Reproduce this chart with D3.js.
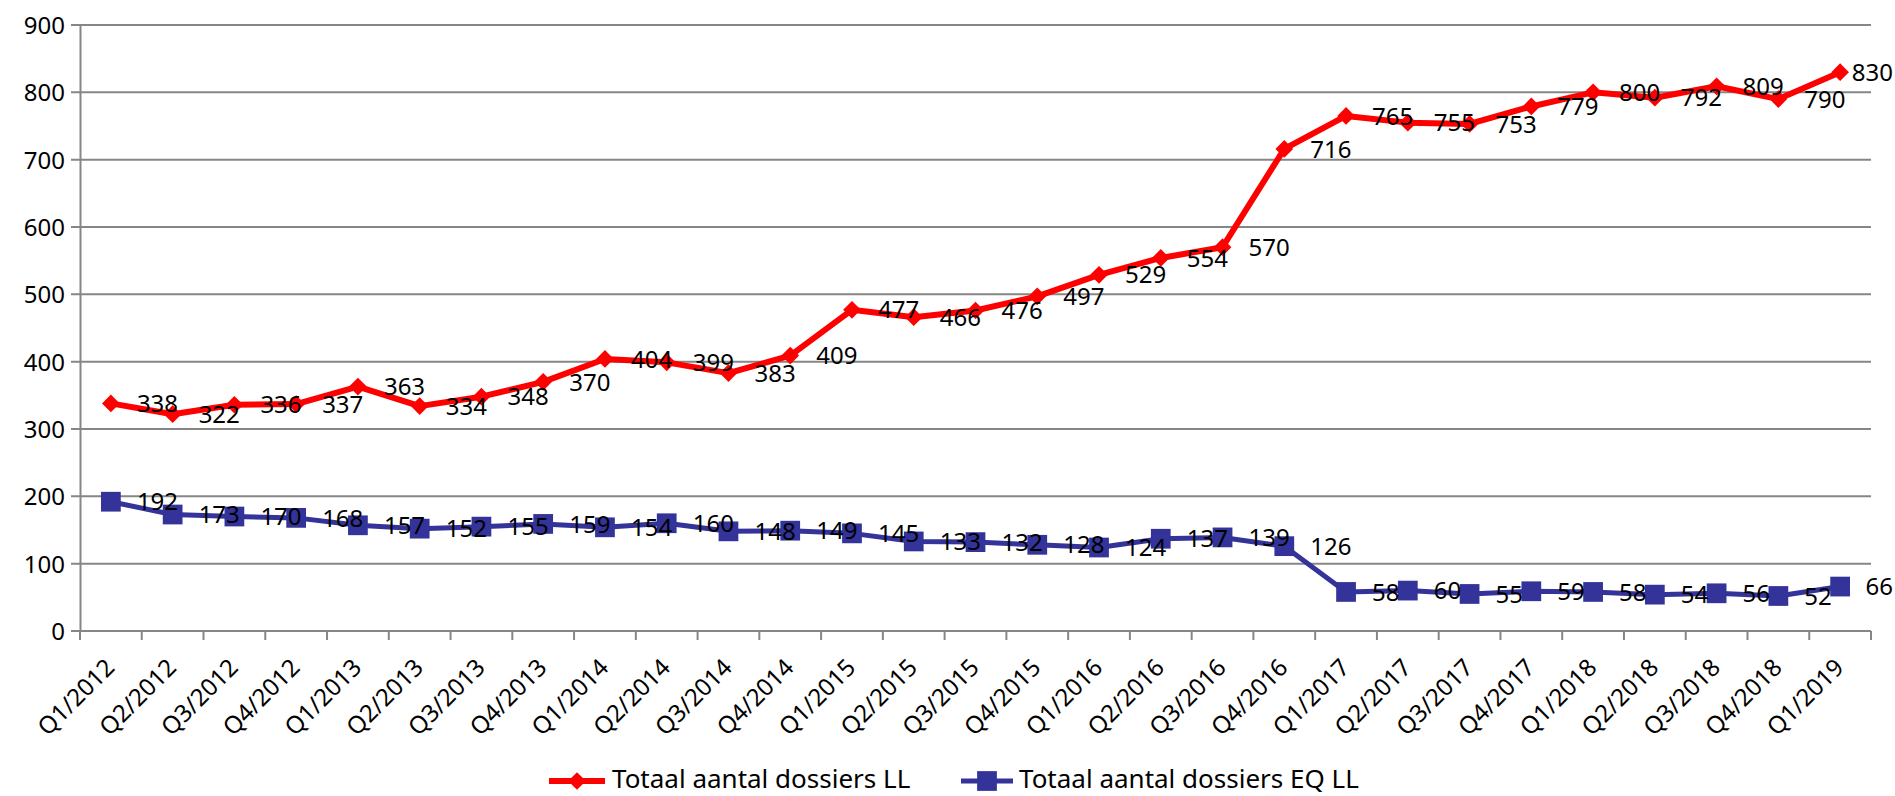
<!DOCTYPE html>
<html>
<head>
<meta charset="utf-8">
<script src="https://cdn.jsdelivr.net/npm/d3@7"></script>
<style>
  html, body { margin: 0; padding: 0; background: #fff; }
  svg { display: block; }
  text { font-family: "Noto Sans", "DejaVu Sans", sans-serif; fill: #000; }
</style>
</head>
<body>
<svg id="chart" width="1895" height="796"></svg>
<script>
const categories = ["Q1/2012","Q2/2012","Q3/2012","Q4/2012","Q1/2013","Q2/2013","Q3/2013","Q4/2013",
  "Q1/2014","Q2/2014","Q3/2014","Q4/2014","Q1/2015","Q2/2015","Q3/2015","Q4/2015",
  "Q1/2016","Q2/2016","Q3/2016","Q4/2016","Q1/2017","Q2/2017","Q3/2017","Q4/2017",
  "Q1/2018","Q2/2018","Q3/2018","Q4/2018","Q1/2019"];
const seriesLL = [338,322,336,337,363,334,348,370,404,399,383,409,477,466,476,497,529,554,570,716,765,755,753,779,800,792,809,790,830];
const seriesEQ = [192,173,170,168,157,152,155,159,154,160,148,149,145,133,132,128,124,137,139,126,58,60,55,59,58,54,56,52,66];
const yTicks = [0,100,200,300,400,500,600,700,800,900];
const seriesNames = ["Totaal aantal dossiers LL", "Totaal aantal dossiers EQ LL"];
const seriesColors = ["#FF0000", "#333399"];

(function () {
const svg = d3.select("#chart");
const pLeft = 80, pRight = 1871, pTop = 25, pBottom = 631;
const fs = 24;
const W = 1895;

const x = d3.scaleBand().domain(categories).range([pLeft, pRight]).padding(0);
const y = d3.scaleLinear().domain([0, 900]).range([pBottom, pTop]);
const cx = c => x(c) + x.bandwidth() / 2;
const gridColor = "#868686";

// gridlines
svg.append("g").selectAll("line").data(yTicks).join("line")
  .attr("x1", pLeft - 9).attr("x2", pRight)
  .attr("y1", d => y(d)).attr("y2", d => y(d))
  .attr("stroke", gridColor).attr("stroke-width", 2);

// y axis
const yAxis = svg.append("g").attr("transform", `translate(${pLeft},0)`)
  .call(d3.axisLeft(y).tickValues(yTicks).tickSize(0).tickPadding(15).tickFormat(d3.format("d")));
yAxis.select(".domain").attr("stroke", gridColor).attr("stroke-width", 2);
yAxis.selectAll("text").attr("font-size", fs).attr("font-family", "Noto Sans").attr("dy", "0.35em");

// x axis baseline and tick marks at band boundaries
svg.append("line").attr("x1", pLeft).attr("x2", pRight).attr("y1", pBottom).attr("y2", pBottom)
  .attr("stroke", gridColor).attr("stroke-width", 2);
const boundaries = categories.map(c => x(c)).concat([x.range()[1]]);
svg.append("g").selectAll("line").data(boundaries).join("line")
  .attr("x1", d => d).attr("x2", d => d).attr("y1", pBottom).attr("y2", pBottom + 9)
  .attr("stroke", gridColor).attr("stroke-width", 2);

// x labels
const xAxis = svg.append("g").attr("transform", `translate(0,${pBottom})`)
  .call(d3.axisBottom(x).tickSize(0).tickFormat(d => d));
xAxis.select(".domain").remove();
xAxis.selectAll(".tick text")
  .attr("font-size", fs).attr("font-family", "Noto Sans")
  .attr("text-anchor", "end").attr("dy", null).attr("y", 0).attr("x", 0)
  .attr("transform", "translate(5,38) rotate(-45)");

// lines
const line = d3.line().x((d, i) => cx(categories[i])).y(d => y(d));
const widths = [6, 5];
[seriesLL, seriesEQ].forEach((s, k) => {
  svg.append("path").datum(s).attr("d", line)
    .attr("fill", "none").attr("stroke", seriesColors[k]).attr("stroke-width", widths[k])
    .attr("stroke-linejoin", "round");
});

const diamond = d3.symbol().type(d3.symbolDiamond2).size(200);
const square = d3.symbol().type(d3.symbolSquare).size(390);

svg.append("g").selectAll("path").data(seriesLL).join("path")
  .attr("d", diamond)
  .attr("transform", (d, i) => `translate(${cx(categories[i])},${y(d)})`)
  .attr("fill", seriesColors[0]);
svg.append("g").selectAll("path").data(seriesEQ).join("path")
  .attr("d", square)
  .attr("transform", (d, i) => `translate(${cx(categories[i])},${y(d)})`)
  .attr("fill", seriesColors[1]);

// data labels
[seriesLL, seriesEQ].forEach(s => {
  svg.append("g").selectAll("text").data(s).join("text")
    .attr("x", (d, i) => cx(categories[i]) + 26)
    .attr("y", d => y(d))
    .attr("dy", "0.36em")
    .attr("font-size", fs)
    .text(d => d)
    .each(function () {
      const len = this.getComputedTextLength();
      const xx = +this.getAttribute("x");
      if (xx + len > W - 2) this.setAttribute("x", W - 2 - len);
    });
});

// legend
const legend = [
  {x1: 549, x2: 605, tx: 612, sym: diamond},
  {x1: 961, x2: 1013, tx: 1019, sym: square}
];
const ly = 781;
legend.forEach((L, k) => {
  const g = svg.append("g");
  g.append("line").attr("x1", L.x1).attr("x2", L.x2).attr("y1", ly).attr("y2", ly)
    .attr("stroke", seriesColors[k]).attr("stroke-width", widths[k]);
  g.append("path").attr("d", L.sym)
    .attr("transform", `translate(${(L.x1 + L.x2) / 2},${ly})`)
    .attr("fill", seriesColors[k]);
  g.append("text").attr("x", L.tx).attr("y", 788)
    .attr("font-size", 26).text(seriesNames[k]);
});
})();
</script>
</body>
</html>
